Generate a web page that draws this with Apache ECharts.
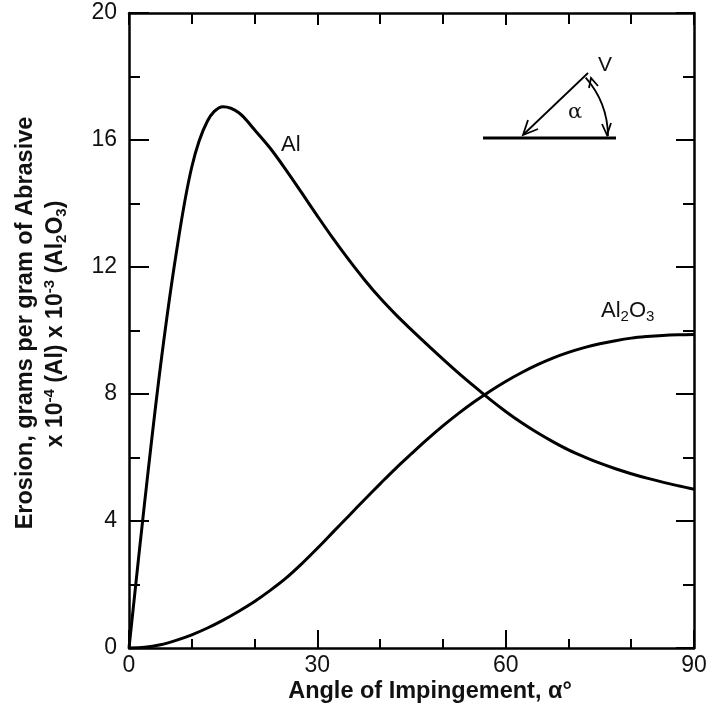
<!DOCTYPE html>
<html>
<head>
<meta charset="utf-8">
<script src="https://cdn.jsdelivr.net/npm/echarts@6/dist/echarts.min.js"></script>
<style>
html,body{margin:0;padding:0;background:#fff;}
#c{width:715px;height:709px;}
</style>
</head>
<body>
<div id="c"></div>
<script>
const angles = [0,2.5,5,7.5,10,12.5,15,17.5,20,22.5,25,27.5,30,32.5,35,37.5,40,42.5,45,47.5,50,52.5,55,57.5,60,62.5,65,67.5,70,72.5,75,77.5,80,82.5,85,87.5,90];
const alValues = [0,4.6,8.85,12.4,15.15,16.6,17.05,16.86,16.32,15.74,15.06,14.34,13.61,12.9,12.23,11.6,11.02,10.5,10.02,9.555,9.1,8.66,8.24,7.83,7.45,7.1,6.785,6.5,6.24,6.02,5.82,5.645,5.49,5.35,5.225,5.11,5.0];
const al2o3Values = [0,0.02,0.1,0.24,0.415,0.63,0.88,1.16,1.465,1.815,2.2,2.65,3.14,3.65,4.16,4.67,5.17,5.66,6.12,6.57,6.995,7.39,7.755,8.09,8.395,8.67,8.915,9.13,9.31,9.46,9.58,9.68,9.76,9.81,9.845,9.865,9.875];
const xTicks = [0,30,60,90];
const yTicks = [0,4,8,12,16,20];

const FONT = '"Liberation Sans", Arial, sans-serif';
const chart = echarts.init(document.getElementById('c'));

function pairs(xs, ys){ return xs.map((x,i)=>[x, ys[i]]); }

const axisLineStyle = {color:'#000', width:2.5};
const tickStyle = {color:'#000', width:2};
const option = {
  animation:false,
  backgroundColor:'#fff',
  grid:{left:129, right:21, top:13, bottom:61, containLabel:false},
  xAxis:[{
    type:'value', min:0, max:90, interval:30, position:'bottom',
    axisLine:{show:true, onZero:false, lineStyle:axisLineStyle},
    axisTick:{show:true, inside:true, length:18, lineStyle:tickStyle},
    minorTick:{show:true, splitNumber:3, length:9, lineStyle:tickStyle},
    splitLine:{show:false},
    axisLabel:{color:'#111', fontFamily:FONT, fontSize:23, margin:6,
      formatter:v=> xTicks.includes(v)? String(v):''}
  },{
    type:'value', min:0, max:90, interval:30, position:'top',
    axisLine:{show:true, onZero:false, lineStyle:axisLineStyle},
    axisTick:{show:true, inside:true, length:12, lineStyle:tickStyle},
    minorTick:{show:true, splitNumber:3, length:11, lineStyle:tickStyle},
    splitLine:{show:false}, axisLabel:{show:false}
  }],
  yAxis:[{
    type:'value', min:0, max:20, interval:4, position:'left',
    axisLine:{show:true, onZero:false, lineStyle:axisLineStyle},
    axisTick:{show:true, inside:true, length:20, lineStyle:tickStyle},
    minorTick:{show:true, splitNumber:2, length:11, lineStyle:tickStyle},
    splitLine:{show:false},
    axisLabel:{color:'#111', fontFamily:FONT, fontSize:23, margin:12,
      formatter:v=> yTicks.includes(v)? String(v):''}
  },{
    type:'value', min:0, max:20, interval:4, position:'right',
    axisLine:{show:true, onZero:false, lineStyle:axisLineStyle},
    axisTick:{show:true, inside:true, length:18, lineStyle:tickStyle},
    minorTick:{show:true, splitNumber:2, length:11, lineStyle:tickStyle},
    splitLine:{show:false}, axisLabel:{show:false}
  }],
  series:[{
    name:'Al', type:'line', smooth:0.35, showSymbol:false, silent:true,
    data:pairs(angles, alValues),
    lineStyle:{color:'#000', width:3}
  },{
    name:'Al2O3', type:'line', smooth:0.35, showSymbol:false, silent:true,
    data:pairs(angles, al2o3Values),
    lineStyle:{color:'#000', width:3}
  }],
  graphic:[
    // curve labels
    {type:'text', x:281, y:156, style:{text:'Al', font:'22px '+FONT, fill:'#111', textVerticalAlign:'bottom'}},
    {type:'text', x:601, y:324, style:{
      textVerticalAlign:'bottom',
      rich:{n:{fontFamily:FONT, fontSize:22, fill:'#111', lineHeight:26},
            s:{fontFamily:FONT, fontSize:15, fill:'#111', lineHeight:26, padding:[12,0,0,0]}},
      text:'{n|Al}{s|2}{n|O}{s|3}'}},
    // y-axis title line 1
    {type:'text', x:26, y:323, rotation:Math.PI/2, style:{
      text:'Erosion, grams per gram of Abrasive', font:'bold 23.5px '+FONT, fill:'#111',
      textAlign:'center', textVerticalAlign:'middle'}},
    // y-axis title line 2
    {type:'text', x:56, y:324, rotation:Math.PI/2, style:{
      textAlign:'center', textVerticalAlign:'middle',
      rich:{b:{fontFamily:FONT, fontWeight:'bold', fontSize:23, fill:'#111', lineHeight:30},
            sup:{fontFamily:FONT, fontWeight:'bold', fontSize:15, fill:'#111', lineHeight:30, padding:[0,0,12,0]},
            sub:{fontFamily:FONT, fontWeight:'bold', fontSize:15, fill:'#111', lineHeight:30, padding:[12,0,0,0]}},
      text:'{b|x 10}{sup|-4}{b| (Al) x 10}{sup|-3}{b| (Al}{sub|2}{b|O}{sub|3}{b|)}'}},
    // x-axis title
    {type:'text', x:430, y:692, style:{
      text:'Angle of Impingement, α°', font:'bold 23.5px '+FONT, fill:'#111',
      textAlign:'center', textVerticalAlign:'middle'}},
    // inset diagram
    {type:'line', shape:{x1:483, y1:138, x2:616, y2:138}, style:{stroke:'#000', lineWidth:3}},
    {type:'line', shape:{x1:588, y1:73, x2:524, y2:134}, style:{stroke:'#000', lineWidth:1.8}},
    {type:'polyline', shape:{points:[[528,120],[523,135],[538,129]]}, style:{stroke:'#000', lineWidth:1.8, fill:null}},
    {type:'arc', shape:{cx:518, cy:137, r:90, startAngle:-0.72, endAngle:-0.01, clockwise:true}, style:{stroke:'#000', lineWidth:1.8, fill:null}},
    {type:'polyline', shape:{points:[[589,88],[591,78],[598,86]]}, style:{stroke:'#000', lineWidth:1.8, fill:null}},
    {type:'polyline', shape:{points:[[602,124],[607,135],[611,123]]}, style:{stroke:'#000', lineWidth:1.8, fill:null}},
    {type:'text', x:598, y:76, style:{text:'V', font:'21px '+FONT, fill:'#111', textVerticalAlign:'bottom'}},
    {type:'text', x:575, y:113, style:{text:'α', font:'21px "DejaVu Serif", serif', fill:'#111', textAlign:'center', textVerticalAlign:'middle'}}
  ]
};
chart.setOption(option);
</script>
</body>
</html>
